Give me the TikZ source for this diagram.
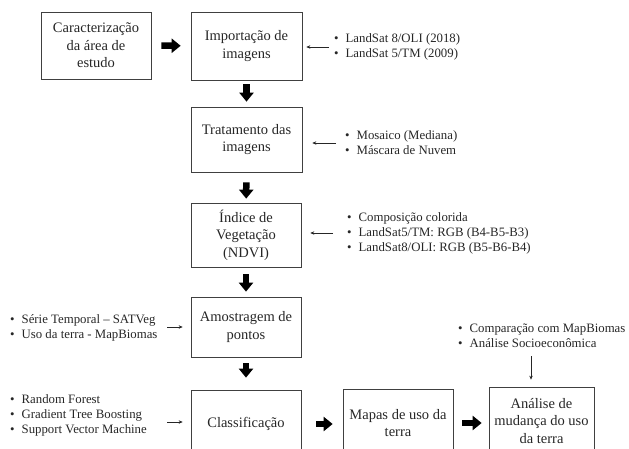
\documentclass[tikz,border=0pt]{standalone}
\usepackage{fontspec}
\setmainfont{Liberation Serif}
\usetikzlibrary{arrows.meta}
\newcommand{\blt}{\textbullet\hspace{7pt}}
\begin{document}
\begin{tikzpicture}[x=1pt,y=-1pt,
  box/.style={draw=black!75, line width=0.7pt, inner sep=0pt, align=center,
    font=\fontsize{14.5}{17.5}\selectfont, text=black!85},
  blist/.style={inner sep=0pt, align=left, anchor=west,
    font=\fontsize{12.8}{15}\selectfont, text=black!85},
  bigarrow/.style={line width=6.5pt, black, -{Triangle[length=9pt,width=14pt]}},
  small/.style={line width=0.6pt, black!85, -{Stealth[length=4pt,width=3.5pt]}}]
\useasboundingbox (0,0) rectangle (629,449);
\clip (0,0) rectangle (629,449);
% main boxes
\node[box, minimum width=110pt, minimum height=67pt] (car) at (96,45.5) {Caracterização\\da área de\\estudo};
\node[box, minimum width=111pt, minimum height=68pt] (imp) at (246.5,46) {Importação de\\imagens};
\node[box, minimum width=111pt, minimum height=65pt] (trat) at (246.5,139.5) {Tratamento das\\imagens};
\node[box, minimum width=110pt, minimum height=64pt] (ndvi) at (246,235) {Índice de\\Vegetação\\(NDVI)};
\node[box, minimum width=110pt, minimum height=60pt] (amo) at (246,327) {Amostragem de\\pontos};
\node[box, minimum width=110pt, minimum height=68pt] (cla) at (246,424) {Classificação};
\node[box, minimum width=110pt, minimum height=68pt] (map) at (398,423) {Mapas de uso da\\terra};
\node[box, minimum width=105pt, minimum height=68pt] (ana) at (541.5,421) {Análise de\\mudança do uso\\da terra};
% block arrows
\draw[bigarrow, shorten <=10pt, shorten >=10pt] (car) -- (imp);
\draw[bigarrow, shorten <=4pt, shorten >=5pt] (imp) -- (trat);
\draw[bigarrow, shorten <=10pt, shorten >=4pt] (trat) -- (ndvi);
\draw[bigarrow, shorten <=7pt, shorten >=5pt] (ndvi) -- (amo);
\draw[bigarrow, shorten <=6pt, shorten >=12pt] (amo) -- (cla);
\draw[bigarrow, shorten <=15pt, shorten >=10pt] (cla.east) -- (cla.east -| map.west);
\draw[bigarrow, shorten <=9pt, shorten >=7pt] (map.east) -- (map.east -| ana.west);
% bullet lists
\node[blist] (l1) at (334,46.5) {\blt LandSat 8/OLI (2018)\\\blt LandSat 5/TM (2009)};
\node[blist] (l2) at (345,142.5) {\blt Mosaico (Mediana)\\\blt Máscara de Nuvem};
\node[blist] (l3) at (347,233) {\blt Composição colorida\\\blt LandSat5/TM: RGB (B4-B5-B3)\\\blt LandSat8/OLI: RGB (B5-B6-B4)};
\node[blist] (l4) at (10,327.5) {\blt Série Temporal – SATVeg\\\blt Uso da terra - MapBiomas};
\node[blist] (l5) at (10,415) {\blt Random Forest\\\blt Gradient Tree Boosting\\\blt Support Vector Machine};
\node[blist] (l6) at (458,335.5) {\blt Comparação com MapBiomas\\\blt Análise Socioeconômica};
% small arrows
\coordinate (s1) at (329,47);
\coordinate (s2) at (336,143);
\coordinate (s3) at (333,233);
\coordinate (s4) at (167,327);
\coordinate (s5) at (167,422);
\coordinate (s6) at (531,356);
\draw[small, shorten >=4pt] (s1) -- (s1 -| imp.east);
\draw[small, shorten >=10pt] (s2) -- (s2 -| trat.east);
\draw[small, shorten >=9pt] (s3) -- (s3 -| ndvi.east);
\draw[small, shorten >=8pt] (s4) -- (s4 -| amo.west);
\draw[small, shorten >=8pt] (s5) -- (s5 -| cla.west);
\draw[small, shorten >=7pt] (s6) -- (s6 |- ana.north);
\end{tikzpicture}
\end{document}
